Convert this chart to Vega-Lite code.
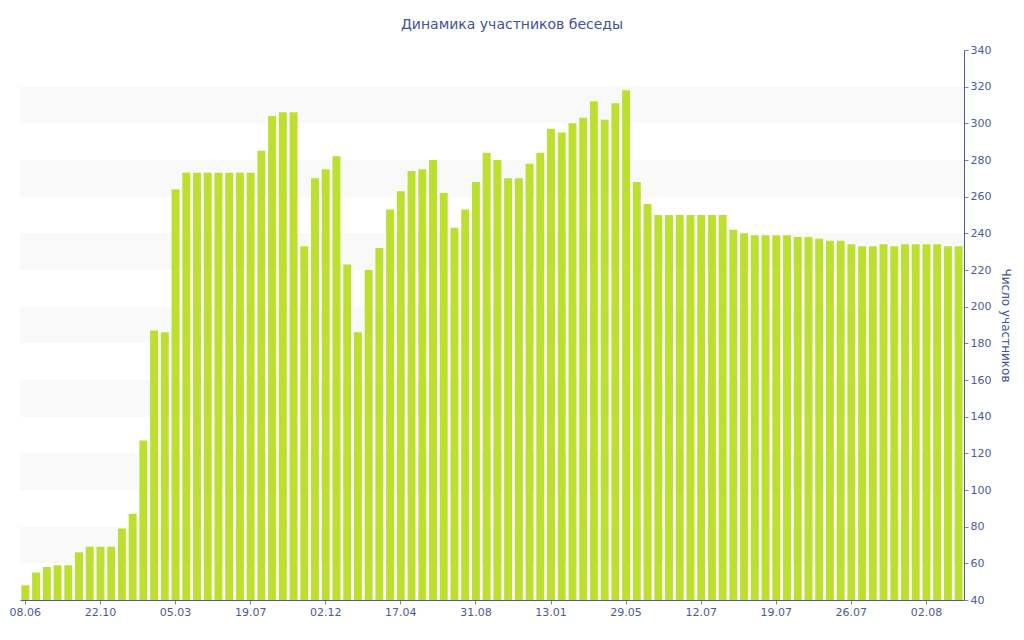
{
  "$schema": "https://vega.github.io/schema/vega-lite/v6.json",
  "description": "Динамика участников беседы",
  "width": 944,
  "height": 550,
  "autosize": "none",
  "padding": {"left": 20, "top": 50, "right": 60, "bottom": 40},
  "background": "white",
  "title": {
    "text": "Динамика участников беседы",
    "font": "DejaVu Sans",
    "fontSize": 14,
    "fontWeight": "normal",
    "color": "#3f51a0",
    "anchor": "middle",
    "dx": 20,
    "offset": 12
  },
  "config": {
    "view": {"stroke": null},
    "font": "DejaVu Sans",
    "axis": {
      "grid": false,
      "domainColor": "#4a5aa0",
      "domainWidth": 1,
      "tickColor": "#7a86b8",
      "labelColor": "#4a5aa0",
      "labelFont": "DejaVu Sans",
      "labelFontSize": 11,
      "titleColor": "#3f51a0",
      "titleFont": "DejaVu Sans",
      "titleFontSize": 12,
      "titleFontWeight": "normal"
    }
  },
  "layer": [
    {
      "data": {
        "values": [
          {"lo": 60, "hi": 80},
          {"lo": 100, "hi": 120},
          {"lo": 140, "hi": 160},
          {"lo": 180, "hi": 200},
          {"lo": 220, "hi": 240},
          {"lo": 260, "hi": 280},
          {"lo": 300, "hi": 320}
        ]
      },
      "mark": {"type": "rect", "color": "#f9f9f9"},
      "encoding": {
        "y": {
          "field": "lo",
          "type": "quantitative",
          "scale": {"domain": [40, 340], "zero": false, "nice": false},
          "title": "Число участников",
          "axis": {
            "orient": "right",
            "values": [40, 60, 80, 100, 120, 140, 160, 180, 200, 220, 240, 260, 280, 300, 320, 340],
            "tickSize": 4,
            "labelPadding": 2,
            "titlePadding": 8
          }
        },
        "y2": {"field": "hi"}
      }
    },
    {
      "data": {
        "values": [
          {"n": 0, "v": 48}, {"n": 1, "v": 55}, {"n": 2, "v": 58}, {"n": 3, "v": 59},
          {"n": 4, "v": 59}, {"n": 5, "v": 66}, {"n": 6, "v": 69}, {"n": 7, "v": 69},
          {"n": 8, "v": 69}, {"n": 9, "v": 79}, {"n": 10, "v": 87}, {"n": 11, "v": 127},
          {"n": 12, "v": 187}, {"n": 13, "v": 186}, {"n": 14, "v": 264}, {"n": 15, "v": 273},
          {"n": 16, "v": 273}, {"n": 17, "v": 273}, {"n": 18, "v": 273}, {"n": 19, "v": 273},
          {"n": 20, "v": 273}, {"n": 21, "v": 273}, {"n": 22, "v": 285}, {"n": 23, "v": 304},
          {"n": 24, "v": 306}, {"n": 25, "v": 306}, {"n": 26, "v": 233}, {"n": 27, "v": 270},
          {"n": 28, "v": 275}, {"n": 29, "v": 282}, {"n": 30, "v": 223}, {"n": 31, "v": 186},
          {"n": 32, "v": 220}, {"n": 33, "v": 232}, {"n": 34, "v": 253}, {"n": 35, "v": 263},
          {"n": 36, "v": 274}, {"n": 37, "v": 275}, {"n": 38, "v": 280}, {"n": 39, "v": 262},
          {"n": 40, "v": 243}, {"n": 41, "v": 253}, {"n": 42, "v": 268}, {"n": 43, "v": 284},
          {"n": 44, "v": 280}, {"n": 45, "v": 270}, {"n": 46, "v": 270}, {"n": 47, "v": 278},
          {"n": 48, "v": 284}, {"n": 49, "v": 297}, {"n": 50, "v": 295}, {"n": 51, "v": 300},
          {"n": 52, "v": 303}, {"n": 53, "v": 312}, {"n": 54, "v": 302}, {"n": 55, "v": 311},
          {"n": 56, "v": 318}, {"n": 57, "v": 268}, {"n": 58, "v": 256}, {"n": 59, "v": 250},
          {"n": 60, "v": 250}, {"n": 61, "v": 250}, {"n": 62, "v": 250}, {"n": 63, "v": 250},
          {"n": 64, "v": 250}, {"n": 65, "v": 250}, {"n": 66, "v": 242}, {"n": 67, "v": 240},
          {"n": 68, "v": 239}, {"n": 69, "v": 239}, {"n": 70, "v": 239}, {"n": 71, "v": 239},
          {"n": 72, "v": 238}, {"n": 73, "v": 238}, {"n": 74, "v": 237}, {"n": 75, "v": 236},
          {"n": 76, "v": 236}, {"n": 77, "v": 234}, {"n": 78, "v": 233}, {"n": 79, "v": 233},
          {"n": 80, "v": 234}, {"n": 81, "v": 233}, {"n": 82, "v": 234}, {"n": 83, "v": 234},
          {"n": 84, "v": 234}, {"n": 85, "v": 234}, {"n": 86, "v": 233}, {"n": 87, "v": 233}
        ]
      },
      "mark": {"type": "bar", "color": "#bde030", "clip": true},
      "encoding": {
        "x": {
          "field": "n",
          "type": "ordinal",
          "sort": null,
          "scale": {"paddingInner": 0.26, "paddingOuter": 0.13},
          "title": null,
          "axis": {
            "values": [0, 7, 14, 21, 28, 35, 42, 49, 56, 63, 70, 77, 84],
            "labelExpr": "['08.06','22.10','05.03','19.07','02.12','17.04','31.08','13.01','29.05','12.07','19.07','26.07','02.08'][floor(datum.value / 7)]",
            "labelAngle": 0,
            "tickSize": 4,
            "labelPadding": 2
          }
        },
        "y": {
          "field": "v",
          "type": "quantitative",
          "scale": {"domain": [40, 340], "zero": false, "nice": false},
          "title": "Число участников",
          "axis": {
            "orient": "right",
            "values": [40, 60, 80, 100, 120, 140, 160, 180, 200, 220, 240, 260, 280, 300, 320, 340],
            "tickSize": 4,
            "labelPadding": 2,
            "titlePadding": 8
          }
        }
      }
    }
  ]
}
